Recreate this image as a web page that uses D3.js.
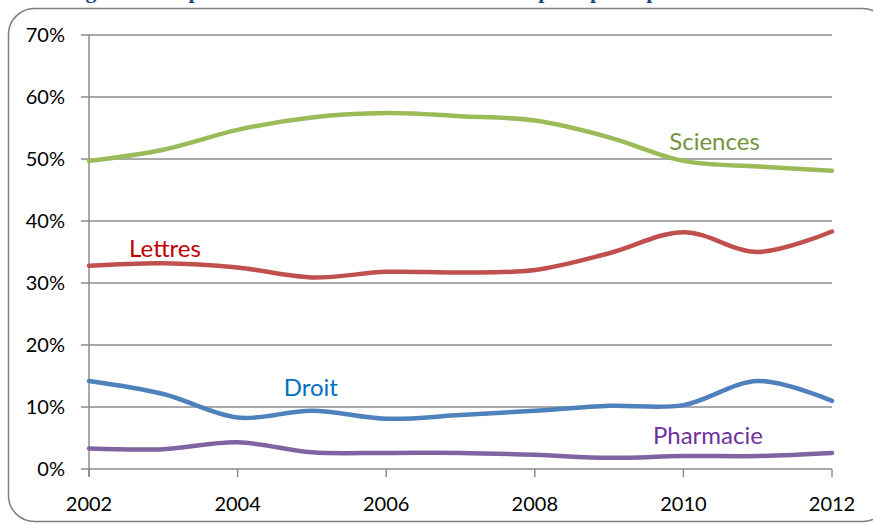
<!DOCTYPE html>
<html>
<head>
<meta charset="utf-8">
<script src="https://cdn.jsdelivr.net/npm/d3@7"></script>
<style>
  html, body { margin: 0; padding: 0; background: #fff; }
  svg { display: block; }
  .tick-label { font-family: Lato, "Open Sans", sans-serif; font-size: 20px; fill: #000; }
  .series-label { font-family: Lato, "Open Sans", sans-serif; font-size: 24px; }
</style>
</head>
<body>
<div id="chart"></div>
<script>
'use strict';

// data
var years = [2002, 2003, 2004, 2005, 2006, 2007, 2008, 2009, 2010, 2011, 2012];
var sciences  = [0.497, 0.515, 0.547, 0.567, 0.574, 0.569, 0.562, 0.535, 0.497, 0.488, 0.481];
var lettres   = [0.328, 0.332, 0.325, 0.309, 0.318, 0.317, 0.321, 0.348, 0.382, 0.350, 0.383];
var droit     = [0.142, 0.121, 0.083, 0.094, 0.081, 0.087, 0.094, 0.102, 0.103, 0.142, 0.110];
var pharmacie = [0.033, 0.032, 0.043, 0.027, 0.026, 0.026, 0.023, 0.018, 0.021, 0.021, 0.026];

var yTicks = [0, 0.1, 0.2, 0.3, 0.4, 0.5, 0.6, 0.7];
var xTicks = [2002, 2004, 2006, 2008, 2010, 2012];
var titleText = "Figure 3 : Répartition des docteurs selon leur discipline principale";

var series = [
  { name: "Sciences",  values: sciences,  line: "#9BBB59", text: "#77933C", lx: 2009.81, ly: 0.5145 },
  { name: "Lettres",   values: lettres,   line: "#C0504D", text: "#C00000", lx: 2002.54, ly: 0.3424 },
  { name: "Droit",     values: droit,     line: "#4F81BD", text: "#0070C0", lx: 2004.62, ly: 0.1177 },
  { name: "Pharmacie", values: pharmacie, line: "#8064A2", text: "#7030A0", lx: 2009.59, ly: 0.0403 }
];

var W = 873, H = 525;
var svg = d3.select("#chart").append("svg")
  .attr("width", W)
  .attr("height", H);

// title, cut off by the top edge (only descenders show, as in the source)
svg.append("text")
  .attr("x", 66)
  .attr("y", -2.5)
  .attr("font-family", "'Liberation Serif', serif")
  .attr("font-weight", "bold")
  .attr("font-size", 22)
  .attr("fill", "#1F497D")
  .text(titleText);

// chart frame
svg.append("rect")
  .attr("x", 8.5)
  .attr("y", 8.5)
  .attr("width", 880)
  .attr("height", 513)
  .attr("rx", 26)
  .attr("fill", "none")
  .attr("stroke", "#7f7f7f")
  .attr("stroke-width", 1.5);

var x = d3.scaleLinear().domain([2002, 2012]).range([89, 832]);
var y = d3.scaleLinear().domain([0, 0.7]).range([469, 35]);

// horizontal gridlines
svg.append("g").selectAll("line")
  .data(yTicks)
  .enter().append("line")
    .attr("x1", 81)
    .attr("x2", x(2012))
    .attr("y1", function(d) { return y(d); })
    .attr("y2", function(d) { return y(d); })
    .attr("stroke", "#8c8c8c")
    .attr("stroke-width", 1.5);

// vertical axis line
svg.append("line")
  .attr("x1", x(2002)).attr("x2", x(2002))
  .attr("y1", y(0.7)).attr("y2", y(0) + 8)
  .attr("stroke", "#8c8c8c")
  .attr("stroke-width", 1.5);

// x tick marks
svg.append("g").selectAll("line")
  .data(xTicks)
  .enter().append("line")
    .attr("x1", function(d) { return x(d); })
    .attr("x2", function(d) { return x(d); })
    .attr("y1", y(0))
    .attr("y2", y(0) + 8)
    .attr("stroke", "#8c8c8c")
    .attr("stroke-width", 1.5);

// y tick labels
svg.append("g").selectAll("text")
  .data(yTicks)
  .enter().append("text")
    .attr("class", "tick-label")
    .attr("x", 65)
    .attr("y", function(d) { return y(d) + 7; })
    .attr("text-anchor", "end")
    .text(function(d) { return d3.format(".0%")(d); });

// x tick labels
svg.append("g").selectAll("text")
  .data(xTicks)
  .enter().append("text")
    .attr("class", "tick-label")
    .attr("x", function(d) { return x(d); })
    .attr("y", 511)
    .attr("text-anchor", "middle")
    .text(function(d) { return d; });

var line = d3.line()
  .x(function(d, i) { return x(years[i]); })
  .y(function(d) { return y(d); })
  .curve(d3.curveCatmullRom.alpha(0));

svg.append("g").selectAll("path")
  .data(series)
  .enter().append("path")
    .attr("d", function(d) { return line(d.values); })
    .attr("fill", "none")
    .attr("stroke", function(d) { return d.line; })
    .attr("stroke-width", 4.5)
    .attr("stroke-linecap", "round")
    .attr("stroke-linejoin", "round");

svg.append("g").selectAll("text")
  .data(series)
  .enter().append("text")
    .attr("class", "series-label")
    .attr("x", function(d) { return x(d.lx); })
    .attr("y", function(d) { return y(d.ly); })
    .attr("fill", function(d) { return d.text; })
    .text(function(d) { return d.name; });
</script>
</body>
</html>
